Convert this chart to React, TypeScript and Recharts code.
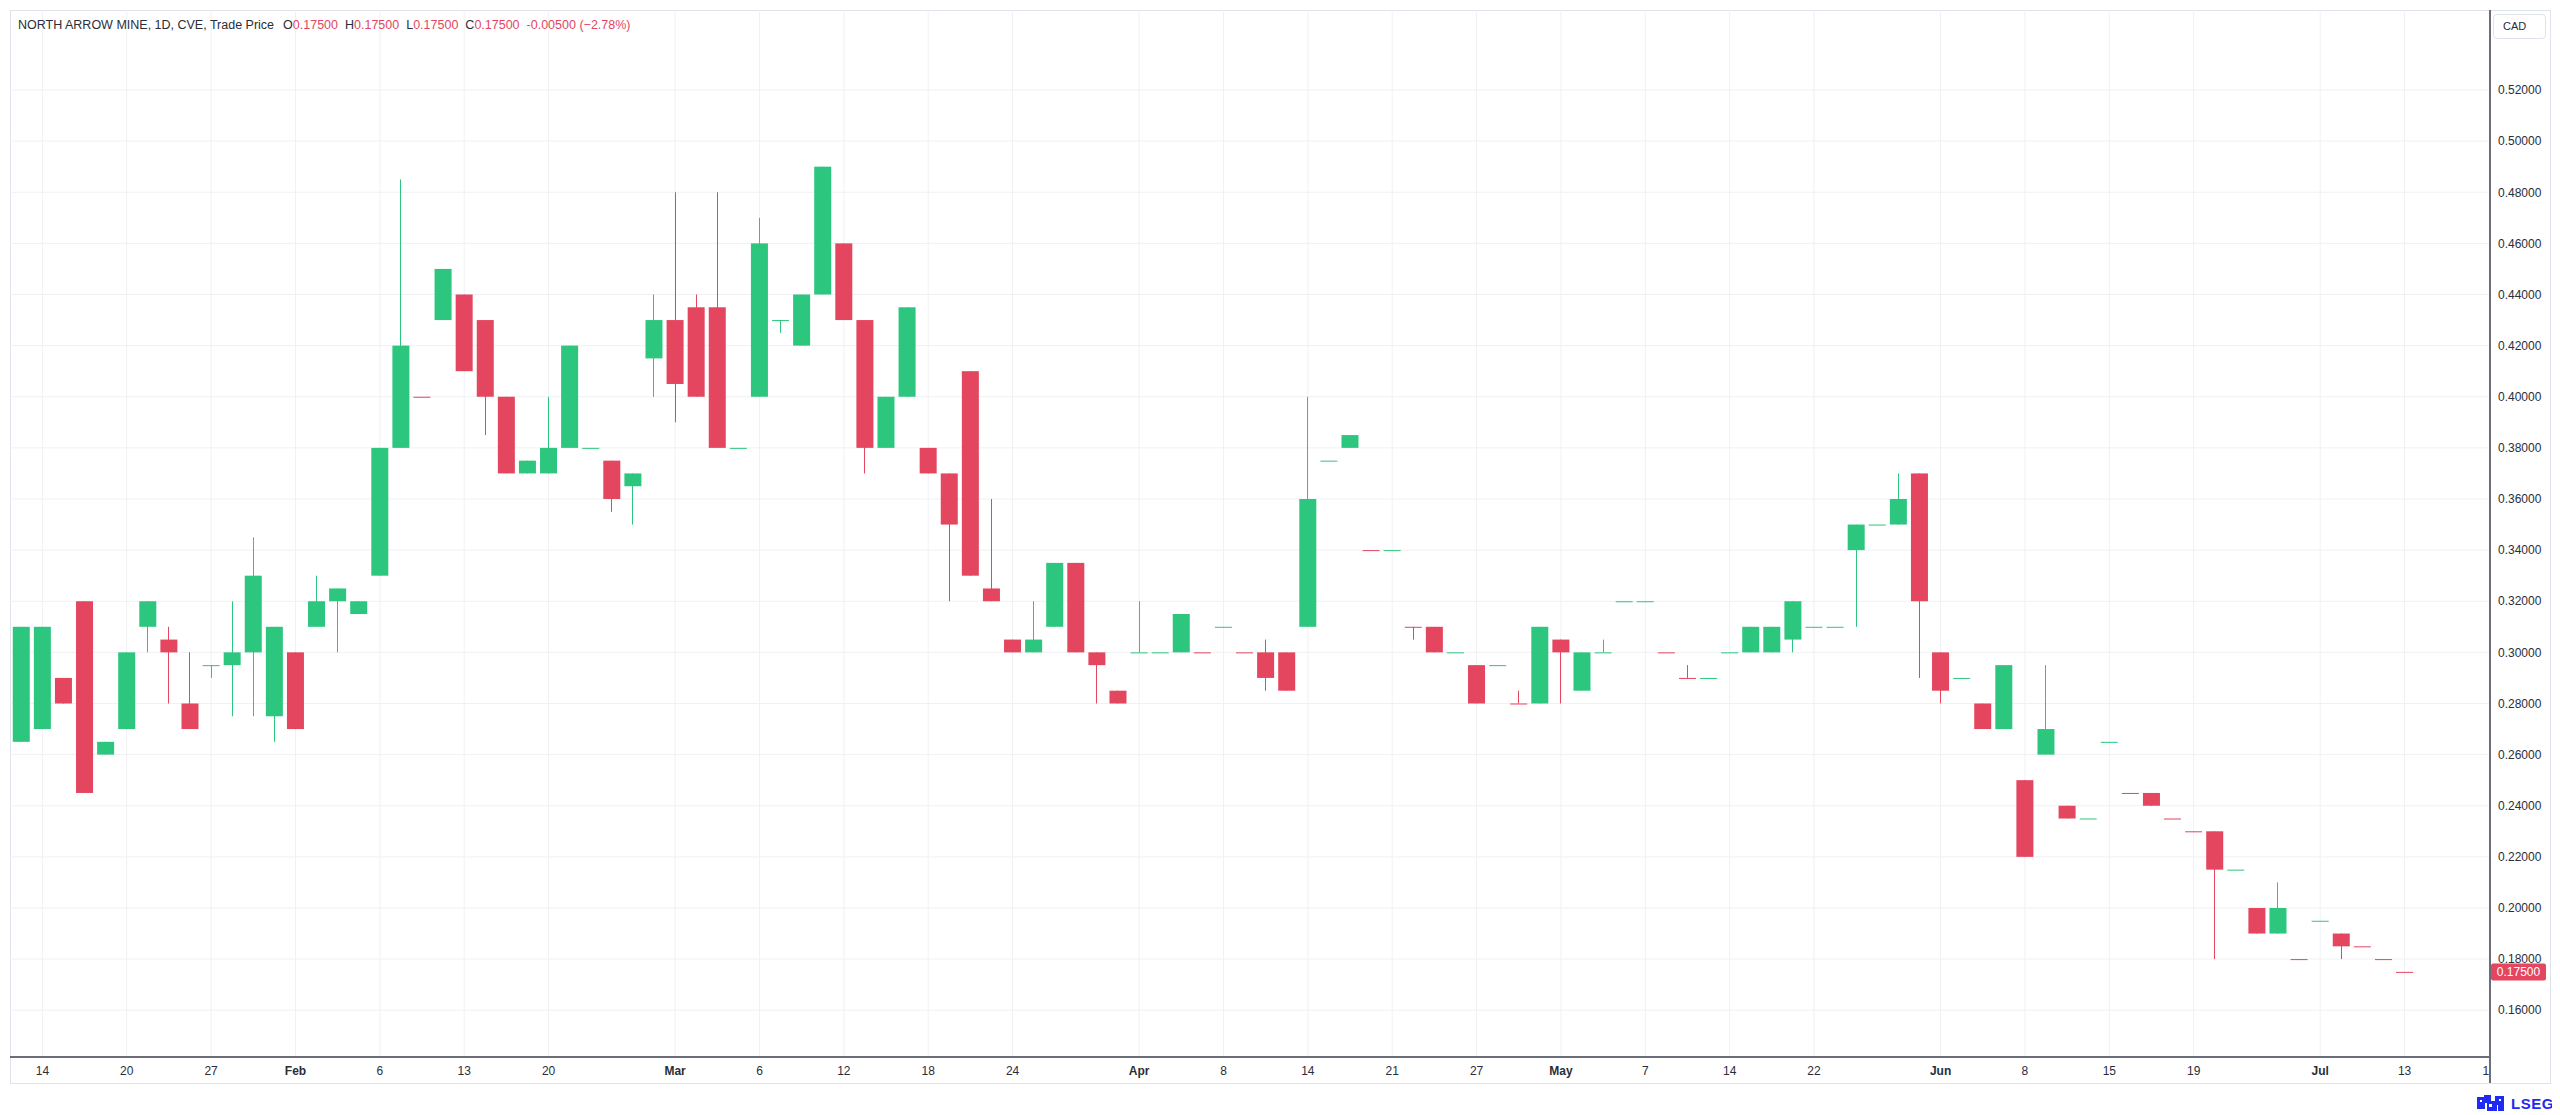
import React from "react";
import { ComposedChart, Bar, XAxis, YAxis, CartesianGrid, ReferenceLine } from "recharts";

// daily candles (CAD)
const opens = [
  0.265, 0.27, 0.29, 0.32, 0.26, 0.27, 0.31, 0.305, 0.28, 0.295,
  0.295, 0.3, 0.275, 0.3, 0.31, 0.32, 0.315, 0.33, 0.38, 0.4,
  0.43, 0.44, 0.43, 0.4, 0.37, 0.37, 0.38, 0.38, 0.375, 0.365,
  0.415, 0.43, 0.435, 0.435, 0.38, 0.4, 0.43, 0.42, 0.44, 0.46,
  0.43, 0.38, 0.4, 0.38, 0.37, 0.41, 0.325, 0.305, 0.3, 0.31,
  0.335, 0.3, 0.285, 0.3, 0.3, 0.3, 0.3, 0.31, 0.3, 0.3,
  0.3, 0.31, 0.375, 0.38, 0.34, 0.34, 0.31, 0.31, 0.3, 0.295,
  0.295, 0.28, 0.28, 0.305, 0.285, 0.3, 0.32, 0.32, 0.3, 0.29,
  0.29, 0.3, 0.3, 0.3, 0.305, 0.31, 0.31, 0.34, 0.35, 0.35,
  0.37, 0.3, 0.29, 0.28, 0.27, 0.25, 0.26, 0.24, 0.235, 0.265,
  0.245, 0.245, 0.235, 0.23, 0.23, 0.215, 0.2, 0.19, 0.18, 0.195,
  0.19, 0.185, 0.18, 0.175,
];
const highs = [
  0.31, 0.31, 0.29, 0.32, 0.265, 0.3, 0.32, 0.31, 0.3, 0.295,
  0.32, 0.345, 0.31, 0.3, 0.33, 0.325, 0.32, 0.38, 0.485, 0.4,
  0.45, 0.44, 0.43, 0.4, 0.375, 0.4, 0.42, 0.38, 0.375, 0.37,
  0.44, 0.48, 0.44, 0.48, 0.38, 0.47, 0.43, 0.44, 0.49, 0.46,
  0.43, 0.4, 0.435, 0.38, 0.37, 0.41, 0.36, 0.305, 0.32, 0.335,
  0.335, 0.3, 0.285, 0.32, 0.3, 0.315, 0.3, 0.31, 0.3, 0.305,
  0.3, 0.4, 0.375, 0.385, 0.34, 0.34, 0.31, 0.31, 0.3, 0.295,
  0.295, 0.285, 0.31, 0.305, 0.3, 0.305, 0.32, 0.32, 0.3, 0.295,
  0.29, 0.3, 0.31, 0.31, 0.32, 0.31, 0.31, 0.35, 0.35, 0.37,
  0.37, 0.3, 0.29, 0.28, 0.295, 0.25, 0.295, 0.24, 0.235, 0.265,
  0.245, 0.245, 0.235, 0.23, 0.23, 0.215, 0.2, 0.21, 0.18, 0.195,
  0.19, 0.185, 0.18, 0.175,
];
const lows = [
  0.265, 0.27, 0.28, 0.245, 0.26, 0.27, 0.3, 0.28, 0.27, 0.29,
  0.275, 0.275, 0.265, 0.27, 0.31, 0.3, 0.315, 0.33, 0.38, 0.4,
  0.43, 0.41, 0.385, 0.37, 0.37, 0.37, 0.38, 0.38, 0.355, 0.35,
  0.4, 0.39, 0.4, 0.38, 0.38, 0.4, 0.425, 0.42, 0.44, 0.43,
  0.37, 0.38, 0.4, 0.37, 0.32, 0.33, 0.32, 0.3, 0.3, 0.31,
  0.3, 0.28, 0.28, 0.3, 0.3, 0.3, 0.3, 0.31, 0.3, 0.285,
  0.285, 0.31, 0.375, 0.38, 0.34, 0.34, 0.305, 0.3, 0.3, 0.28,
  0.295, 0.28, 0.28, 0.28, 0.285, 0.3, 0.32, 0.32, 0.3, 0.29,
  0.29, 0.3, 0.3, 0.3, 0.3, 0.31, 0.31, 0.31, 0.35, 0.35,
  0.29, 0.28, 0.29, 0.27, 0.27, 0.22, 0.26, 0.235, 0.235, 0.265,
  0.245, 0.24, 0.235, 0.23, 0.18, 0.215, 0.19, 0.19, 0.18, 0.195,
  0.18, 0.185, 0.18, 0.175,
];
const closes = [
  0.31, 0.31, 0.28, 0.245, 0.265, 0.3, 0.32, 0.3, 0.27, 0.295,
  0.3, 0.33, 0.31, 0.27, 0.32, 0.325, 0.32, 0.38, 0.42, 0.4,
  0.45, 0.41, 0.4, 0.37, 0.375, 0.38, 0.42, 0.38, 0.36, 0.37,
  0.43, 0.405, 0.4, 0.38, 0.38, 0.46, 0.43, 0.44, 0.49, 0.43,
  0.38, 0.4, 0.435, 0.37, 0.35, 0.33, 0.32, 0.3, 0.305, 0.335,
  0.3, 0.295, 0.28, 0.3, 0.3, 0.315, 0.3, 0.31, 0.3, 0.29,
  0.285, 0.36, 0.375, 0.385, 0.34, 0.34, 0.31, 0.3, 0.3, 0.28,
  0.295, 0.28, 0.31, 0.3, 0.3, 0.3, 0.32, 0.32, 0.3, 0.29,
  0.29, 0.3, 0.31, 0.31, 0.32, 0.31, 0.31, 0.35, 0.35, 0.36,
  0.32, 0.285, 0.29, 0.27, 0.295, 0.22, 0.27, 0.235, 0.235, 0.265,
  0.245, 0.24, 0.235, 0.23, 0.215, 0.215, 0.19, 0.2, 0.18, 0.195,
  0.185, 0.185, 0.18, 0.175,
];
// sessions where open == close but the candle is drawn green
const upDojis = [9, 27, 34, 36, 53, 54, 57, 62, 65, 68, 70, 75, 76, 77, 80, 81, 85, 86, 88, 92, 98, 99, 105, 109];

const dateTicks = [1, 5, 9, 13, 17, 21, 25, 31, 35, 39, 43, 47, 53, 57, 61, 65, 69, 73, 77, 81, 85, 91, 95, 99, 103, 109, 113, 116.85];
const dateLabels = ["14", "20", "27", "Feb", "6", "13", "20", "Mar", "6", "12", "18", "24", "Apr", "8", "14", "21", "27", "May", "7", "14", "22", "Jun", "8", "15", "19", "Jul", "13", "1"];
const months = ["Feb", "Mar", "Apr", "May", "Jun", "Jul"];
const priceTicks = [0.16, 0.18, 0.2, 0.22, 0.24, 0.26, 0.28, 0.3, 0.32, 0.34, 0.36, 0.38, 0.4, 0.42, 0.44, 0.46, 0.48, 0.5, 0.52];

const GREEN = "#2dc67e";
const RED = "#e4455f";
const TEXT = "#2a2e39";
const AXIS = "#6b6e79";
const GRID = "#f0f1f3";
const BORDER = "#e0e3eb";
const FONT = '"Liberation Sans", Arial, sans-serif';

const candles = opens.map((open, i) => ({
  i,
  open,
  high: highs[i],
  low: lows[i],
  close: closes[i],
  up: closes[i] > open || (closes[i] === open && upDojis.includes(i)),
}));

const last = candles[candles.length - 1];
const prevClose = closes[closes.length - 2];
const change = last.close - prevClose;
const changePct = (change / prevClose) * 100;

const Candle = (props: any) => {
  const { x, y, width, height, payload } = props;
  if (x == null || y == null || !payload) return null;
  const color = payload.up ? GREEN : RED;
  const top = Math.min(y, y + height);
  const h = Math.abs(height);
  const span = payload.high - payload.low;
  const py = (v: number) => (span > 0 ? top + ((payload.high - v) / span) * h : top);
  const bodyTop = py(Math.max(payload.open, payload.close));
  const bodyBottom = py(Math.min(payload.open, payload.close));
  const wickX = Math.floor(x + width / 2);
  return (
    <g>
      {h > 0 && <rect x={wickX} y={top} width={1} height={h} fill={color} />}
      <rect x={x} y={bodyTop} width={width} height={Math.max(1, bodyBottom - bodyTop)} fill={color} />
    </g>
  );
};

const DateTick = (props: any) => {
  const { x, y, payload } = props;
  const label = dateLabels[dateTicks.indexOf(payload.value)];
  return (
    <text
      x={x}
      y={y}
      dy="0.71em"
      textAnchor="middle"
      fill={TEXT}
      fontSize={12}
      fontFamily={FONT}
      fontWeight={months.includes(label) ? 700 : 400}
    >
      {label}
    </text>
  );
};

const PriceTag = (props: any) => {
  const vb = props.viewBox;
  if (!vb) return null;
  const left = vb.x + vb.width + 1;
  return (
    <g>
      <rect x={left} y={vb.y - 8.5} width={55} height={17} rx={2} fill={RED} />
      <text x={left + 27.5} y={vb.y + 4.5} textAnchor="middle" fill="#fff" fontSize={12} fontFamily={FONT}>
        {last.close.toFixed(5)}
      </text>
    </g>
  );
};

const LsegMark = () => (
  <div style={{ position: "absolute", left: 2468, top: 1087, display: "flex", alignItems: "center", gap: 6 }}>
    <svg width={29} height={17}>
      <rect x={1} y={2} width={8} height={12} fill="#1e2bf5" />
      <rect x={8} y={0} width={7} height={8} fill="#1e2bf5" />
      <rect x={11} y={6} width={10} height={10} fill="#1e2bf5" />
      <rect x={19} y={1} width={9} height={9} fill="#1e2bf5" />
      <rect x={22} y={9} width={6} height={7} fill="#1e2bf5" />
      <rect x={13} y={9} width={3} height={3} fill="#fff" />
      <rect x={4} y={5} width={2} height={2} fill="#fff" />
      <rect x={23} y={4} width={2} height={2} fill="#fff" />
    </svg>
    <span style={{ color: "#1e2bf5", fontFamily: FONT, fontWeight: 700, fontSize: 15, letterSpacing: 0.5 }}>LSEG</span>
  </div>
);

export default function App() {
  return (
    <div style={{ position: "relative", width: 2552, height: 1107, fontFamily: FONT }}>
      <div
        style={{
          position: "absolute",
          left: 2,
          top: 2,
          width: 2541,
          height: 1074,
          border: `1px solid ${BORDER}`,
          boxSizing: "border-box",
        }}
      />
      <ComposedChart
        width={2552}
        height={1107}
        data={candles}
        margin={{ top: 2, right: 0, left: 2, bottom: 32 }}
        style={{ position: "absolute", left: 0, top: 0 }}
      >
        <CartesianGrid stroke={GRID} verticalValues={dateTicks.slice(0, -1)} horizontalValues={priceTicks} />
        <XAxis
          type="number"
          dataKey="i"
          domain={[-0.536, 117.05]}
          allowDataOverflow
          ticks={dateTicks}
          interval={0}
          tick={<DateTick />}
          tickLine={false}
          tickSize={0}
          tickMargin={9}
          height={26}
          axisLine={{ stroke: AXIS, strokeWidth: 2 }}
        />
        <YAxis
          type="number"
          orientation="right"
          domain={[0.1417, 0.5513]}
          allowDataOverflow
          ticks={priceTicks}
          interval={0}
          tickFormatter={(v: number) => v.toFixed(5)}
          tick={{ fill: TEXT, fontSize: 12, fontFamily: FONT }}
          tickLine={false}
          tickSize={0}
          tickMargin={8}
          width={70}
          axisLine={{ stroke: AXIS, strokeWidth: 2 }}
        />
        <Bar
          dataKey={(d: any) => [d.low, d.high]}
          barSize={17}
          shape={<Candle />}
          isAnimationActive={false}
        />
        <ReferenceLine y={last.close} stroke="transparent" label={<PriceTag />} />
      </ComposedChart>
      <div style={{ position: "absolute", left: 2481, top: 1049, width: 2, height: 26, background: AXIS }} />
      <div
        style={{
          position: "absolute",
          left: 10,
          top: 9,
          fontSize: 12.5,
          lineHeight: "16px",
          color: TEXT,
          whiteSpace: "pre",
        }}
      >
        NORTH ARROW MINE, 1D, CVE, Trade Price
        <span style={{ marginLeft: 9 }}>O</span>
        <span style={{ color: RED }}>{last.open.toFixed(5)}</span>
        <span style={{ marginLeft: 7 }}>H</span>
        <span style={{ color: RED }}>{last.high.toFixed(5)}</span>
        <span style={{ marginLeft: 7 }}>L</span>
        <span style={{ color: RED }}>{last.low.toFixed(5)}</span>
        <span style={{ marginLeft: 7 }}>C</span>
        <span style={{ color: RED }}>{last.close.toFixed(5)}</span>
        <span style={{ marginLeft: 7, color: RED }}>
          {change.toFixed(5)} ({changePct < 0 ? "\u2212" : "+"}
          {Math.abs(changePct).toFixed(2)}%)
        </span>
      </div>
      <div
        style={{
          position: "absolute",
          left: 2485,
          top: 6,
          width: 53,
          height: 25,
          border: `1px solid ${BORDER}`,
          borderRadius: 4,
          boxSizing: "border-box",
          fontSize: 11,
          lineHeight: "23px",
          paddingLeft: 9,
          color: TEXT,
        }}
      >
        CAD
      </div>
      <LsegMark />
    </div>
  );
}
